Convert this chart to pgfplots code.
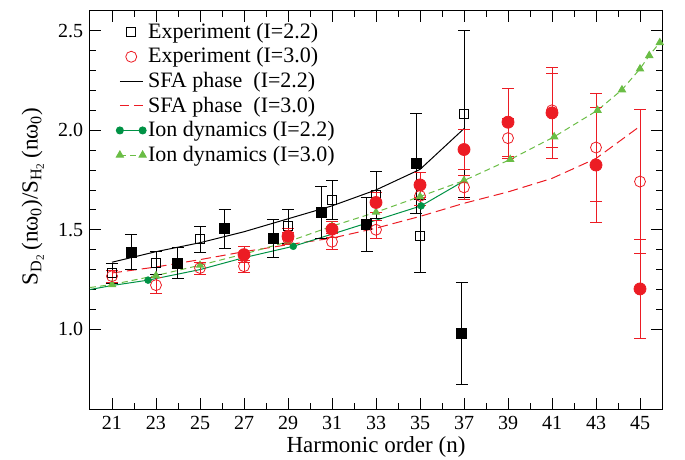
\documentclass[border=0pt]{standalone}
\usepackage{fontspec}
\setmainfont{Liberation Serif}
\usepackage{pgfplots}
\pgfplotsset{compat=1.18}
\definecolor{myred}{RGB}{236,28,36}
\definecolor{dgreen}{RGB}{0,146,69}
\definecolor{lgreen}{RGB}{106,189,69}
\newcommand{\lgf}{\fontsize{22}{26}\selectfont}
\newcommand{\lbf}{\fontsize{23}{27}\selectfont}
\pgfplotsset{
  my midmark legend/.style={legend image code/.code={\draw[mark repeat=2,mark phase=2,##1] plot coordinates {(0cm,0cm) (0.4cm,0cm) (0.8cm,0cm)};}},
  my line legend/.style={legend image code/.code={\draw[##1] (0cm,0cm) -- (0.8cm,0cm);}},
  my endmark legend/.style={legend image code/.code={\draw[##1] plot coordinates {(0cm,0cm) (0.8cm,0cm)};}},
}
\begin{document}
\fontsize{20}{24}\selectfont
\begin{tikzpicture}
\begin{axis}[
  at={(0,0)}, anchor=south west,
  width=572pt, height=398.3pt, scale only axis,
  xmin=20, xmax=46, ymin=0.6, ymax=2.6,
  xtick={21,23,...,45}, minor x tick num=1,
  ytick={1.0,1.5,2.0,2.5}, minor y tick num=4,
  yticklabel style={/pgf/number format/.cd, fixed, fixed zerofill, precision=1},
  /pgf/number format/assume math mode=true,
  tick align=inside, major tick length=11pt, minor tick length=6pt,
  tick style={black, line width=0.8pt},
  axis line style={line width=1pt},
  xlabel={\lbf Harmonic order (n)},
  ylabel={\lbf S\textsubscript{D\textsubscript{2}}\,(nω\textsubscript{0})/S\textsubscript{H\textsubscript{2}}\,(nω\textsubscript{0})},
  every axis x label/.style={at={(axis description cs:0.5,-0.095)}, anchor=center},
  every axis y label/.style={at={(axis description cs:-0.1,0.533)}, anchor=center, rotate=90},
  legend style={at={(axis description cs:0.044,0.977)}, anchor=north west, draw=none, fill=none,
    row sep=2.3pt, inner sep=1pt},
  legend cell align=left,
]
% legend entries
\addlegendimage{only marks, mark=square, mark size=4.5pt, black, line width=0.8pt, my midmark legend}
\addlegendentry{\lgf Experiment (I=2.2)}
\addlegendimage{only marks, mark=o, mark size=5.5pt, myred, line width=0.8pt, my midmark legend}
\addlegendentry{\lgf Experiment (I=3.0)}
\addlegendimage{black, line width=1pt, my line legend}
\addlegendentry{\lgf SFA phase~ (I=2.2)}
\addlegendimage{myred, line width=1pt, dash pattern=on 9pt off 5pt, my line legend}
\addlegendentry{\lgf SFA phase~ (I=3.0)}
\addlegendimage{dgreen, line width=1pt, mark=*, mark size=3.5pt, my endmark legend}
\addlegendentry{\lgf Ion dynamics (I=2.2)}
\addlegendimage{lgreen, line width=1pt, dash pattern=on 6pt off 4pt, mark=triangle*, mark size=4pt, mark options={solid}, my endmark legend}
\addlegendentry{\lgf Ion dynamics (I=3.0)}

% SFA phase I=2.2
\addplot[forget plot, black, line width=1pt] coordinates {
(21,1.337) (23,1.39) (25,1.435) (27,1.49) (29,1.555) (31,1.62) (33,1.70) (35,1.803) (37,2.008)};
% SFA phase I=3.0
\addplot[forget plot, myred, line width=1pt, dash pattern=on 10pt off 5pt] coordinates {
(21,1.283) (23,1.313) (25,1.35) (27,1.39) (29,1.425) (31,1.458) (33,1.508) (35,1.567) (37,1.633) (39,1.69) (41,1.758) (43,1.858) (45,2.02)};
% Ion dynamics I=2.2 (line)
\addplot[forget plot, dgreen, line width=1pt] coordinates {
(20,1.20) (21,1.22) (22.64,1.247) (25,1.30) (27,1.36) (29.24,1.417) (31,1.478) (33,1.548) (35.05,1.62) (37,1.745)};
\addplot[forget plot, only marks, dgreen, mark=*, mark size=3.5pt] coordinates {
(22.64,1.247) (29.24,1.417) (35.05,1.62)};
% Ion dynamics I=3.0
\addplot[forget plot, lgreen, line width=1pt, dash pattern=on 6pt off 4pt] coordinates {
(20,1.21) (21,1.225)};
\addplot[forget plot, lgreen, line width=1pt, dash pattern=on 6pt off 4pt, mark=triangle*, mark size=4pt, mark options={solid}] coordinates {
(21,1.225) (23,1.27) (25,1.322) (27,1.378) (29,1.44) (31,1.518) (33,1.588) (35,1.667) (37,1.747) (39.1,1.853) (41.1,1.967) (43.07,2.10) (44.18,2.203) (45,2.308) (45.42,2.375) (45.9,2.44)};

% Experiment I=2.2 open squares
\addplot[forget plot, only marks, mark=square, mark size=4.5pt, black, line width=0.8pt,
  error bars/.cd, y dir=both, y explicit, error bar style={line width=0.8pt},
  error mark options={rotate=90, mark size=6pt, line width=0.8pt}] coordinates {
(21,1.283) +- (0,0.05)
(23,1.333) +- (0,0.057)
(25,1.453) +- (0,0.065)
(29,1.517) +- (0,0.083)
(31,1.65) +- (0,0.097)
(33,1.675) +- (0,0.12)
(35,1.467) +- (0,0.183)
(37,2.083) +- (0,0.42)
};
% filled squares
\addplot[forget plot, only marks, mark=square*, mark size=5pt, black, line width=0.8pt,
  error bars/.cd, y dir=both, y explicit, error bar style={line width=0.8pt},
  error mark options={rotate=90, mark size=6pt, line width=0.8pt}] coordinates {
(21.86,1.388) +- (0,0.088)
(23.98,1.333) +- (0,0.077)
(26.12,1.505) +- (0,0.097)
(28.32,1.456) +- (0,0.096)
(30.5,1.588) +- (0,0.13)
(32.57,1.528) +- (0,0.136)
(34.82,1.833) +- (0,0.25)
(36.9,0.98) +- (0,0.256)
};
% Experiment I=3.0 open circles
\addplot[forget plot, only marks, mark=o, mark size=5.5pt, myred, line width=0.8pt,
  error bars/.cd, y dir=both, y explicit, error bar style={line width=0.8pt},
  error mark options={rotate=90, mark size=6pt, line width=0.8pt}] coordinates {
(21,1.267) +- (0,0.03)
(23,1.222) +- (0,0.04)
(25,1.308) +- (0,0.03)
(27,1.317) +- (0,0.03)
(29,1.455) +- (0,0.03)
(31,1.44) +- (0,0.04)
(33,1.50) +- (0,0.045)
(35,1.67) +- (0,0.05)
(37,1.713) +- (0,0.06)
(39,1.96) +- (0,0.10)
(41,2.10) +- (0,0.185)
(43,1.913) +- (0,0.27)
(45,1.742) +- (0,0.36)
};
% filled circles
\addplot[forget plot, only marks, mark=*, mark size=6pt, myred, line width=0.8pt,
  error bars/.cd, y dir=both, y explicit, error bar style={line width=0.8pt},
  error mark options={rotate=90, mark size=6pt, line width=0.8pt}] coordinates {
(27,1.375) +- (0,0.04)
(29,1.467) +- (0,0.04)
(31,1.503) +- (0,0.04)
(33,1.637) +- (0,0.05)
(35,1.725) +- (0,0.065)
(37,1.903) +- (0,0.10)
(39,2.04) +- (0,0.17)
(41,2.087) +- (0,0.23)
(43,1.825) +- (0,0.29)
(45,1.203) +- (0,0.249)
};
\end{axis}
\pgfresetboundingbox
\useasboundingbox (-90pt,-51pt) rectangle (595pt,409pt);
\end{tikzpicture}
\end{document}
